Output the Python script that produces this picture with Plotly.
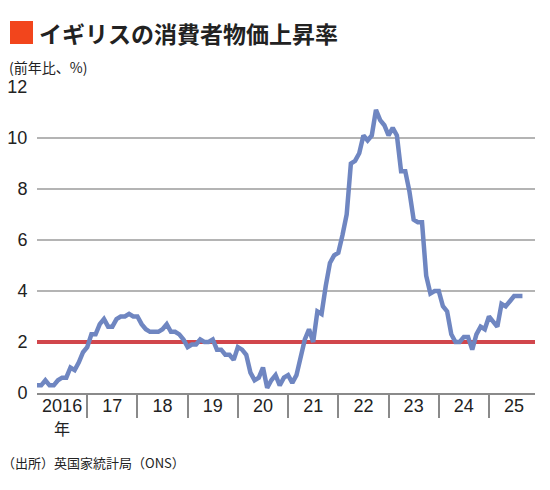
import plotly.graph_objects as go

# UK CPI, year-on-year %, monthly Jan 2016 - Sep 2025
cpi_2016 = [0.3, 0.3, 0.5, 0.3, 0.3, 0.5, 0.6, 0.6, 1.0, 0.9, 1.2, 1.6]
cpi_2017 = [1.8, 2.3, 2.3, 2.7, 2.9, 2.6, 2.6, 2.9, 3.0, 3.0, 3.1, 3.0]
cpi_2018 = [3.0, 2.7, 2.5, 2.4, 2.4, 2.4, 2.5, 2.7, 2.4, 2.4, 2.3, 2.1]
cpi_2019 = [1.8, 1.9, 1.9, 2.1, 2.0, 2.0, 2.1, 1.7, 1.7, 1.5, 1.5, 1.3]
cpi_2020 = [1.8, 1.7, 1.5, 0.8, 0.5, 0.6, 1.0, 0.2, 0.5, 0.7, 0.3, 0.6]
cpi_2021 = [0.7, 0.4, 0.7, 1.5, 2.1, 2.5, 2.0, 3.2, 3.1, 4.2, 5.1, 5.4]
cpi_2022 = [5.5, 6.2, 7.0, 9.0, 9.1, 9.4, 10.1, 9.9, 10.1, 11.1, 10.7, 10.5]
cpi_2023 = [10.1, 10.4, 10.1, 8.7, 8.7, 7.9, 6.8, 6.7, 6.7, 4.6, 3.9, 4.0]
cpi_2024 = [4.0, 3.4, 3.2, 2.3, 2.0, 2.0, 2.2, 2.2, 1.7, 2.3, 2.6, 2.5]
cpi_2025 = [3.0, 2.8, 2.6, 3.5, 3.4, 3.6, 3.8, 3.8, 3.8]

cpi = (cpi_2016 + cpi_2017 + cpi_2018 + cpi_2019 + cpi_2020 + cpi_2021
       + cpi_2022 + cpi_2023 + cpi_2024 + cpi_2025)
months = list(range(len(cpi)))  # 0 = Jan 2016

target = 2.0
year_labels = ["2016", "17", "18", "19", "20", "21", "22", "23", "24", "25"]
year_unit = "年"
y_ticks = [0, 2, 4, 6, 8, 10, 12]

title = "イギリスの消費者物価上昇率"
unit = "(前年比、%)"
source = "（出所）英国家統計局（ONS）"

JP = "Noto Sans CJK JP"
NUM = "Liberation Sans, Arial, sans-serif"

fig = go.Figure()

fig.add_trace(go.Scatter(
    x=[0, 119], y=[target, target], mode="lines",
    line=dict(color="#d1464c", width=4), hoverinfo="skip", showlegend=False,
))
fig.add_trace(go.Scatter(
    x=months, y=cpi, mode="lines",
    line=dict(color="#6f86c1", width=4.5, shape="linear"),
    showlegend=False,
))
# invisible trace on x2 to activate divider axis
fig.add_trace(go.Scatter(x=[0], y=[0], xaxis="x2", mode="markers",
                         marker=dict(opacity=0), showlegend=False, hoverinfo="skip"))

fig.update_layout(
    width=550, height=490,
    margin=dict(l=37, r=15, t=87, b=97),
    paper_bgcolor="white", plot_bgcolor="white",
    xaxis=dict(
        range=[0, 119], automargin=False,
        tickvals=[6 + 12 * k for k in range(len(year_labels))],
        ticktext=year_labels,
        ticks="",
        showgrid=False, zeroline=False,
        showline=False,
        tickfont=dict(family=NUM, size=18, color="#222"),
        fixedrange=True,
    ),
    xaxis2=dict(
        overlaying="x", side="bottom", matches="x", automargin=False,
        range=[0, 119],
        tickvals=[12 * k for k in range(1, 10)],
        ticks="outside", ticklen=23, tickwidth=2, tickcolor="#8a8a8a",
        showticklabels=False, showgrid=False, zeroline=False,
        showline=True, linecolor="#8a8a8a", linewidth=2,
    ),
    yaxis=dict(
        range=[0, 12], tickvals=y_ticks, automargin=False,
        showgrid=True, gridcolor="#b4b4b4", gridwidth=1.5,
        zeroline=False, showline=False,
        ticks="outside", ticklen=5, tickcolor="rgba(0,0,0,0)",
        tickfont=dict(family=NUM, size=18, color="#222"),
        fixedrange=True,
    ),
    showlegend=False,
)

# year unit under the first label
fig.add_annotation(text=year_unit, xref="x", yref="paper",
                   x=6, y=-(428 - 393) / 306, xanchor="center", yanchor="middle",
                   showarrow=False, font=dict(family=JP, size=16, color="#222"))

# title square and texts
fig.add_shape(type="rect", xref="paper", yref="paper",
              x0=-27 / 498, x1=-4 / 498, y0=1 + (87 - 44) / 306, y1=1 + (87 - 21) / 306,
              fillcolor="#f2451c", line=dict(width=0))
fig.add_annotation(text="<b>" + title + "</b>", xref="paper", yref="paper",
                   x=0 / 498, y=1 + (87 - 33) / 306, xanchor="left", yanchor="middle",
                   showarrow=False, font=dict(family=JP, size=23, color="#222"))
fig.add_annotation(text=unit, xref="paper", yref="paper",
                   x=-30 / 498, y=1 + (87 - 67) / 306, xanchor="left", yanchor="middle",
                   showarrow=False, font=dict(family=JP, size=14, color="#222"))
fig.add_annotation(text=source, xref="paper", yref="paper",
                   x=-37 / 498, y=-(462 - 393) / 306, xanchor="left", yanchor="middle",
                   showarrow=False, font=dict(family=JP, size=13, color="#222"))

fig.write_html("out.html")
